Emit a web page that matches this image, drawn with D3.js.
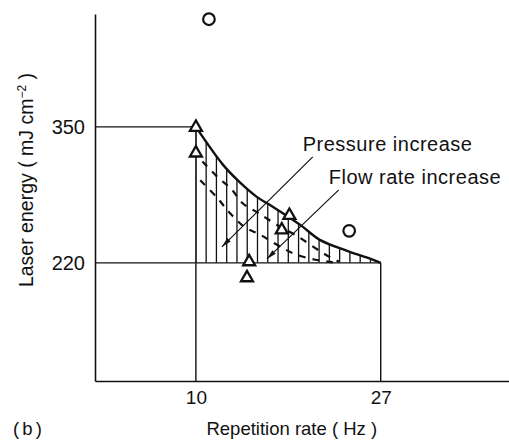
<!DOCTYPE html>
<html>
<head>
<meta charset="utf-8">
<script src="https://cdn.jsdelivr.net/npm/d3@7"></script>
<style>
  html, body { margin: 0; padding: 0; background: #fff; }
  svg text { font-family: "Liberation Sans", Arial, Helvetica, sans-serif; fill: #111; }
</style>
</head>
<body>
<svg id="chart" width="509" height="441"></svg>
<script>
// ---------- data ----------
const xDomain = [0.72, 38.8];          // repetition rate (Hz) extent of the axis frame
const yDomain = [107, 458];            // laser energy extent of the axis frame
const xTickValues = [10, 27];
const yTickValues = [220, 350];

// upper boundary of the operating window (hatched region)
const boundaryRate   = [10, 12.5, 14.0, 15.6, 17.1, 19.6, 21.4, 23.9, 25.7, 27];
const boundaryEnergy = [350, 313.7, 297.4, 283.1, 273.5, 256.3, 242, 231.5, 225.2, 220];

// dashed boundaries (lower curves)
const dashedUpperRate   = [10.6, 12, 13.3, 14.3, 15.7, 17.5, 19.4, 21.9, 23.2];
const dashedUpperEnergy = [317, 302, 290, 277, 268, 256, 245, 228, 221];
const dashedLowerRate   = [10.4, 11.9, 13.1, 14.5, 15.9, 17.5, 19.2, 21, 22.6];
const dashedLowerEnergy = [299, 283, 268, 254, 247, 237, 228, 223, 220.5];

// measured points
const triangleRate   = [10, 10, 14.9, 14.7, 18.6, 17.9];
const triangleEnergy = [349.6, 325, 221, 205.7, 265.4, 251.5];
const circleRate   = [11.2, 24.1];
const circleEnergy = [453, 250.6];

// annotation arrows
const arrowLabels = ["Pressure increase", "Flow rate increase"];
const arrowStartRate   = [20.75, 23.14];
const arrowStartEnergy = [321.3, 289.8];
const arrowTipRate     = [12.39, 16.53];
const arrowTipEnergy   = [235.3, 223.8];

const hatchCount = 18;

// ---------- drawing ----------
const svg = d3.select("#chart");
const x = d3.scaleLinear().domain(xDomain).range([95, 509]);
const y = d3.scaleLinear().domain(yDomain).range([381, 14]);

const defs = svg.append("defs");
defs.append("marker")
  .attr("id", "arrowhead")
  .attr("viewBox", "0 0 10 6")
  .attr("refX", 10).attr("refY", 3)
  .attr("markerWidth", 10).attr("markerHeight", 6)
  .attr("markerUnits", "userSpaceOnUse")
  .attr("orient", "auto")
  .append("path").attr("d", "M0,0.6 L10,3 L0,5.4 Z").attr("fill", "#111");

const ink = "#111";

// axes
const yAxis = d3.axisLeft(y).tickValues(yTickValues).tickSize(0).tickPadding(10).tickFormat(d3.format("d"));
const xAxis = d3.axisBottom(x).tickValues(xTickValues).tickSize(0).tickPadding(10).tickFormat(d3.format("d"));

const gy = svg.append("g").attr("transform", `translate(${x(xDomain[0])},0)`).call(yAxis);
const gx = svg.append("g").attr("transform", `translate(0,${y(yDomain[0])})`).call(xAxis);
[gx, gy].forEach(g => {
  g.select(".domain").attr("stroke", ink).attr("stroke-width", 1.6);
  g.selectAll("text").attr("font-size", 20).attr("fill", ink)
   .style("font-family", '"Liberation Sans", Arial, sans-serif');
});
gx.selectAll("text").attr("font-size", 19);

// reference lines (window frame)
const frame = svg.append("g").attr("stroke", ink).attr("stroke-width", 1.4).attr("fill", "none");
frame.append("line")
  .attr("x1", x(xDomain[0])).attr("x2", x(xTickValues[0]))
  .attr("y1", y(yTickValues[1])).attr("y2", y(yTickValues[1]));
frame.append("line")
  .attr("x1", x(xDomain[0])).attr("x2", x(xTickValues[1]))
  .attr("y1", y(yTickValues[0])).attr("y2", y(yTickValues[0]));
frame.append("line")
  .attr("x1", x(xTickValues[0])).attr("x2", x(xTickValues[0]))
  .attr("y1", y(yTickValues[1])).attr("y2", y(yDomain[0]));
frame.append("line")
  .attr("x1", x(xTickValues[1])).attr("x2", x(xTickValues[1]))
  .attr("y1", y(yTickValues[0])).attr("y2", y(yDomain[0]));

// hatched region
const boundary = boundaryRate.map((r, i) => [r, boundaryEnergy[i]]);
const curve = d3.curveCatmullRom.alpha(0.5);
const area = d3.area().x(d => x(d[0])).y0(y(yTickValues[0])).y1(d => y(d[1])).curve(curve);
defs.append("clipPath").attr("id", "windowClip").append("path").attr("d", area(boundary));
const hatchX = d3.range(hatchCount + 1).map(i => xTickValues[0] + i * (xTickValues[1] - xTickValues[0]) / hatchCount);
svg.append("g").attr("clip-path", "url(#windowClip)")
  .selectAll("line").data(hatchX).join("line")
  .attr("x1", d => x(d)).attr("x2", d => x(d))
  .attr("y1", y(yTickValues[1]) - 5).attr("y2", y(yTickValues[0]))
  .attr("stroke", ink).attr("stroke-width", 1.3);

const line = d3.line().x(d => x(d[0])).y(d => y(d[1])).curve(curve);
svg.append("path").attr("d", line(boundary))
  .attr("fill", "none").attr("stroke", ink).attr("stroke-width", 2.4);

// dashed curves
[[dashedUpperRate, dashedUpperEnergy], [dashedLowerRate, dashedLowerEnergy]].forEach(([rs, es]) => {
  svg.append("path").attr("d", line(rs.map((r, i) => [r, es[i]])))
    .attr("fill", "none").attr("stroke", ink).attr("stroke-width", 2.2)
    .attr("stroke-dasharray", "7,7");
});

// annotation arrows + labels
arrowLabels.forEach((lab, i) => {
  svg.append("line")
    .attr("x1", x(arrowStartRate[i])).attr("y1", y(arrowStartEnergy[i]))
    .attr("x2", x(arrowTipRate[i])).attr("y2", y(arrowTipEnergy[i]))
    .attr("stroke", ink).attr("stroke-width", 1.2)
    .attr("marker-end", "url(#arrowhead)");
  svg.append("text")
    .attr("x", x(arrowStartRate[i]) - 10).attr("y", y(arrowStartEnergy[i]) - 6)
    .attr("font-size", 20)
    .attr("letter-spacing", 0.5)
    .text(lab);
});

// triangles
svg.append("g").selectAll("path").data(triangleRate).join("path")
  .attr("d", d3.symbol().type(d3.symbolTriangle).size(62))
  .attr("transform", (d, i) => `translate(${x(d)},${y(triangleEnergy[i])})`)
  .attr("fill", "#fff").attr("stroke", ink).attr("stroke-width", 2.3);

// circles
svg.append("g").selectAll("circle").data(circleRate).join("circle")
  .attr("cx", d => x(d)).attr("cy", (d, i) => y(circleEnergy[i]))
  .attr("r", 5.8).attr("fill", "#fff").attr("stroke", ink).attr("stroke-width", 2.2);

// axis titles
svg.append("text")
  .attr("transform", "translate(33,180) rotate(-90)")
  .attr("text-anchor", "middle").attr("font-size", 19.5)
  .append("tspan").text("Laser energy ( mJ cm")
  .append("tspan").attr("dy", -7).attr("font-size", 12).text("−2")
  .select(function() { return this.parentNode; })
  .append("tspan").attr("dy", 7).text(" )");

svg.append("text")
  .attr("x", (x(xTickValues[0]) + x(xTickValues[1])) / 2 + 3.5).attr("y", 435)
  .attr("text-anchor", "middle").attr("font-size", 18.5)
  .text("Repetition rate ( Hz )");

svg.append("text").attr("x", 13).attr("y", 435).attr("font-size", 18.5).text("( b )")
  .attr("letter-spacing", -1);
</script>
</body>
</html>
